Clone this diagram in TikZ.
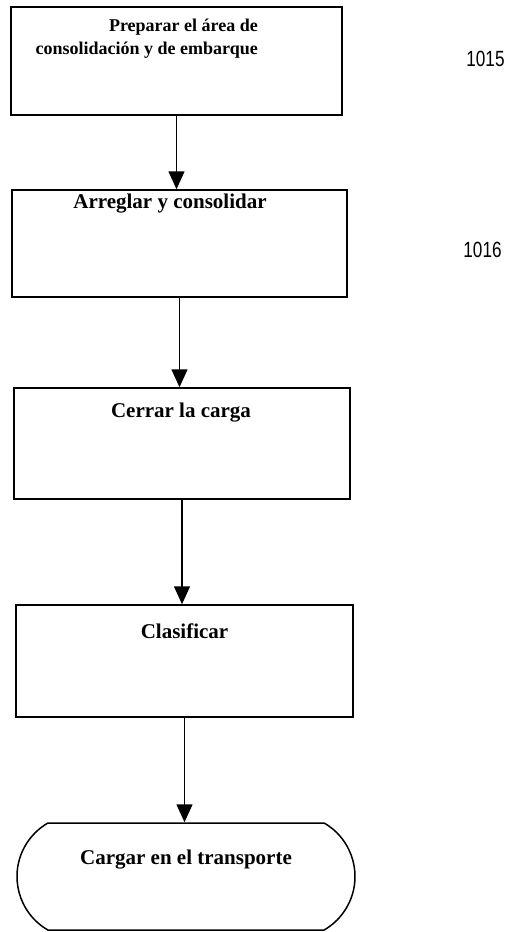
\documentclass[tikz,border=0pt]{standalone}
\usepackage{fontspec}
\setmainfont{Liberation Serif}
\newfontfamily\numfont[FakeStretch=0.78]{Liberation Sans}
\usetikzlibrary{arrows.meta, shapes.misc}

\tikzset{
  stepbox/.style={draw, line width=1.5pt, inner sep=0pt},
  endbox/.style={draw, line width=1.5pt, inner sep=0pt, rounded rectangle,
    rounded rectangle arc length=120},
  steptext/.style={font=\fontsize{21}{23}\selectfont\bfseries, inner sep=0pt},
  reflabel/.style={font=\numfont\fontsize{22}{24}\selectfont, inner sep=0pt},
  flow/.style={->, line width=1.5pt},
}

\begin{document}
\begin{tikzpicture}[x=1pt, y=-1pt, >={Triangle[width=16pt,length=18pt]}]
  \useasboundingbox (0,0) rectangle (518,932);

  % --- Boxes ---
  \node[stepbox, minimum width=331pt, minimum height=108pt] (prep) at (176.5,61) {};
  \node[stepbox, minimum width=335pt, minimum height=107pt] (arreglar) at (179.5,243.5) {};
  \node[stepbox, minimum width=336pt, minimum height=111pt] (cerrar) at (182,443.5) {};
  \node[stepbox, minimum width=337pt, minimum height=112pt] (clasificar) at (184.5,661) {};

  % Terminal
  \node[endbox, minimum width=338pt, minimum height=107pt] (cargar) at (186,876.5) {};

  % --- Texts ---
  \node[steptext, font=\fontsize{18}{23}\selectfont\bfseries, align=right, anchor=east] (prep-txt) at (258,38.5)
    {Preparar el área de\\consolidación y de embarque};
  \node[steptext] (arreglar-txt) at (170,204) {Arreglar y consolidar};
  \node[steptext] (cerrar-txt) at (181,413) {Cerrar la carga};
  \node[steptext] (clasificar-txt) at (184.5,631) {Clasificar};
  \node[steptext] (cargar-txt) at (186,860) {Cargar en el transporte};

  % Reference numbers
  \node[reflabel] (ref1015) at (485.5,59) {1015};
  \node[reflabel] (ref1016) at (482.5,250) {1016};

  % --- Arrows ---
  \draw[flow] (prep.south) -- (prep.south |- arreglar.north);
  \draw[flow] (arreglar.south) -- (arreglar.south |- cerrar.north);
  \draw[flow] (cerrar.south) -- (cerrar.south |- clasificar.north);
  \draw[flow] (clasificar.south) -- (clasificar.south |- cargar.north);

\end{tikzpicture}
\end{document}
